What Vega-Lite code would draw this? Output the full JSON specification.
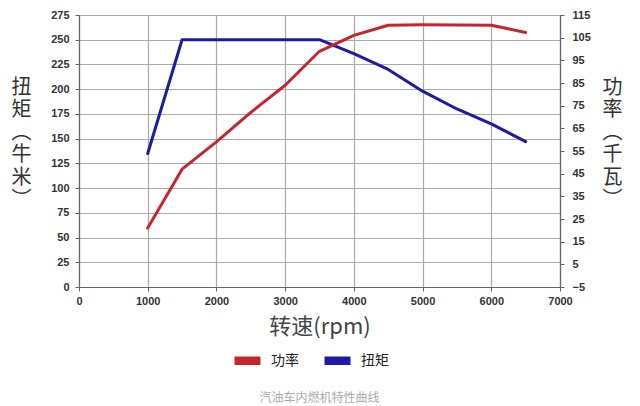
{
  "$schema": "https://vega.github.io/schema/vega-lite/v6.json",
  "autosize": {"type": "none"},
  "padding": {"left": 79, "top": 15, "right": 80, "bottom": 119},
  "width": 481,
  "height": 272,
  "background": "white",
  "config": {
    "view": {"stroke": null},
    "axis": {
      "labelFont": "Liberation Sans",
      "labelFontWeight": "bold",
      "labelFontSize": 11,
      "labelColor": "#333",
      "domainColor": "#666",
      "domainWidth": 1.2,
      "tickColor": "#666",
      "tickSize": 4,
      "gridColor": "#aaa",
      "gridWidth": 1.2,
      "titleFont": "Noto Sans CJK SC",
      "titleFontWeight": "normal",
      "titleColor": "#333"
    }
  },
  "title": {
    "text": "汽油车内燃机特性曲线",
    "orient": "bottom",
    "anchor": "middle",
    "font": "Noto Sans CJK SC",
    "fontSize": 12,
    "fontWeight": "normal",
    "color": "#aaa",
    "offset": 15
  },
  "data": {
    "values": [
      {"rpm": 1000, "power": 21, "torque": 135},
      {"rpm": 1500, "power": 47, "torque": 250},
      {"rpm": 2000, "power": 59, "torque": 250},
      {"rpm": 2500, "power": 72, "torque": 250},
      {"rpm": 3000, "power": 84, "torque": 250},
      {"rpm": 3500, "power": 99, "torque": 250},
      {"rpm": 4000, "power": 106, "torque": 236},
      {"rpm": 4500, "power": 110.5, "torque": 220},
      {"rpm": 5000, "power": 110.7, "torque": 198},
      {"rpm": 5500, "power": 110.6, "torque": 180},
      {"rpm": 6000, "power": 110.5, "torque": 165},
      {"rpm": 6500, "power": 107.3, "torque": 147}
    ]
  },
  "encoding": {
    "x": {
      "field": "rpm",
      "type": "quantitative",
      "scale": {"domain": [0, 7000], "nice": false},
      "axis": {
        "values": [0, 1000, 2000, 3000, 4000, 5000, 6000, 7000],
        "format": "d",
        "labelPadding": 4,
        "labelFlush": false,
        "title": "转速(rpm)",
        "titleFontSize": 22,
        "titleBaseline": "middle",
        "titleY": 39,
        "titleColor": "#444"
      }
    }
  },
  "layer": [
    {
      "mark": {"type": "line", "strokeWidth": 3, "strokeJoin": "round", "strokeCap": "round"},
      "encoding": {
        "y": {
          "field": "torque",
          "type": "quantitative",
          "scale": {"domain": [0, 275], "nice": false, "zero": false},
          "axis": {
            "orient": "left",
            "values": [0, 25, 50, 75, 100, 125, 150, 175, 200, 225, 250, 275],
            "labelPadding": 6,
            "title": ["扭", "矩", "︵", "牛", "米", "︶"],
            "titleAngle": 0,
            "titleFontSize": 20,
            "titleLineHeight": 22.5,
            "titleAlign": "center",
            "titleBaseline": "middle",
            "titleX": -58,
            "titleY": 72
          }
        },
        "color": {
          "datum": "扭矩",
          "type": "nominal",
          "scale": {"domain": ["功率", "扭矩"], "range": ["#c4262c", "#1e1aa3"]},
          "legend": {
            "orient": "none",
            "direction": "horizontal",
            "legendX": 151,
            "legendY": 328,
            "title": null,
            "padding": 0,
            "symbolType": "stroke",
            "symbolSize": 676,
            "symbolStrokeWidth": 8.5,
            "labelFont": "Noto Sans CJK SC",
            "labelFontSize": 14,
            "labelColor": "#222",
            "labelOffset": 6,
            "columnPadding": 8
          }
        }
      }
    },
    {
      "mark": {"type": "line", "strokeWidth": 3, "strokeJoin": "round", "strokeCap": "round"},
      "encoding": {
        "y": {
          "field": "power",
          "type": "quantitative",
          "scale": {"domain": [-5, 115], "nice": false, "zero": false},
          "axis": {
            "orient": "right",
            "grid": false,
            "values": [-5, 5, 15, 25, 35, 45, 55, 65, 75, 85, 95, 105, 115],
            "labelPadding": 8,
            "title": ["功", "率", "︵", "千", "瓦", "︶"],
            "titleAngle": 0,
            "titleFontSize": 20,
            "titleLineHeight": 22.5,
            "titleAlign": "center",
            "titleBaseline": "middle",
            "titleX": 52,
            "titleY": 72
          }
        },
        "color": {"datum": "功率", "type": "nominal"}
      }
    }
  ],
  "resolve": {"scale": {"y": "independent"}}
}
